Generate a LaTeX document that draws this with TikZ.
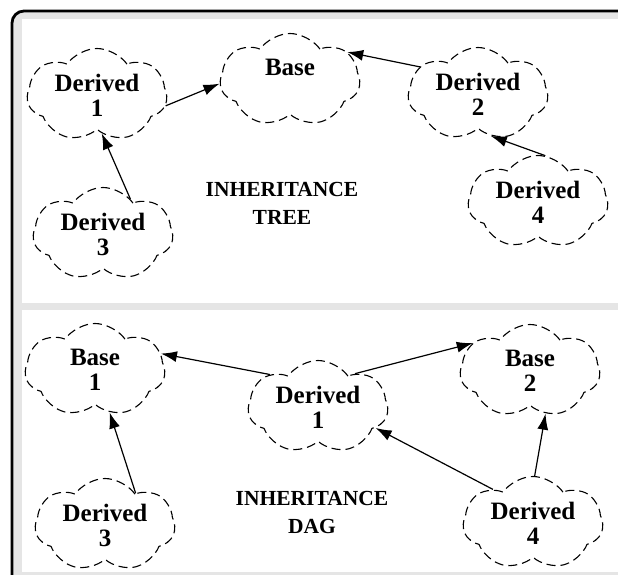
\documentclass[tikz,border=0pt]{standalone}
\usepackage{fontspec}
\setmainfont{Liberation Serif}
\usetikzlibrary{shapes.symbols,arrows.meta}

\tikzset{
	blob/.style={cloud, cloud puffs=7, cloud puff arc=110, cloud ignores aspect, draw, line width=1.1pt, dash pattern=on 9pt off 5pt, minimum width=140pt, minimum height=93pt, inner sep=0pt, align=center, font=\fontsize{25}{25}\selectfont\bfseries},
	link/.style={-{Latex[length=16pt,width=11pt]}, line width=1.2pt},
	caption/.style={align=center, font=\fontsize{21.5}{28}\selectfont\bfseries}
}

\begin{document}
\begin{tikzpicture}[x=1pt,y=-1pt]
		\useasboundingbox (0,0) rectangle (618,575);
		\begin{scope}
			\clip (0,0) rectangle (618,575);
			\draw[line width=2.8pt, rounded corners=12pt, fill=black!10] (12,11) rectangle (640,600);
			\fill[white] (22,19) rectangle (620,303);
			\fill[white] (22,310) rectangle (620,572);
		\end{scope}

		\foreach \name/\x/\y/\txt in {tdone/97/95/Derived\\1, tbase/290/80/Base\\\phantom{1}, tdtwo/478/94/Derived\\2, tdthree/103/234/Derived\\3, tdfour/538/202/Derived\\4, dbone/95/370/Base\\1, ddone/318/407/Derived\\1, dbtwo/530/371/Base\\2, ddthree/105/525/Derived\\3, ddfour/533/523/Derived\\4}
		{
			\node[blob] (\name) at (\x,\y) {\txt};
		}

		\node[caption] (treetitle) at (282,203) {INHERITANCE\\TREE};
		\node[caption] (dagtitle) at (312,512) {INHERITANCE\\DAG};

		\draw[link] (tdone.-9) -- (tbase.183);
		\draw[link] (tdtwo.155) -- (tbase.26);
		\draw[link] (tdfour.81) -- (tdtwo.-73);
		\draw[link] (tdthree.52) -- (tdone.-83);

		\draw[link] (ddone.146) -- (dbone.14);
		\draw[link] (ddone.42) -- (dbtwo.154);
		\draw[link] (ddfour.140) -- (ddone.-20);
		\draw[link] (ddfour.88) -- (dbtwo.-70);
		\draw[link] (ddthree.46) -- (dbone.-71);
	\end{tikzpicture}
\end{document}
